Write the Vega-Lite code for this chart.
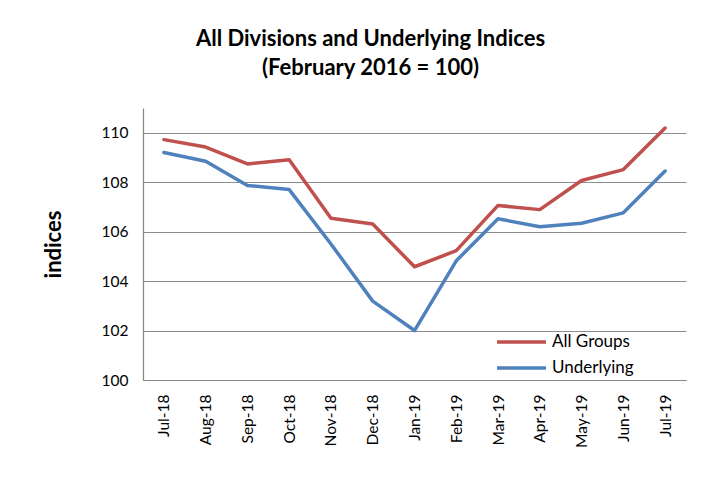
{
  "$schema": "https://vega.github.io/schema/vega-lite/v6.json",
  "width": 543,
  "height": 272,
  "autosize": {"type": "none"},
  "padding": {"left": 143, "top": 108, "right": 34, "bottom": 97},
  "background": "white",
  "title": {
    "text": ["All Divisions and Underlying Indices", "(February 2016 = 100)"],
    "font": "Lato",
    "fontSize": 22,
    "fontWeight": "bold",
    "color": "#000000",
    "lineHeight": 29,
    "anchor": "middle",
    "dx": -44,
    "offset": 28
  },
  "data": {
    "values": [
      {"month": "Jul-18", "series": "All Groups", "value": 109.72},
      {"month": "Aug-18", "series": "All Groups", "value": 109.42},
      {"month": "Sep-18", "series": "All Groups", "value": 108.74},
      {"month": "Oct-18", "series": "All Groups", "value": 108.91},
      {"month": "Nov-18", "series": "All Groups", "value": 106.54},
      {"month": "Dec-18", "series": "All Groups", "value": 106.31},
      {"month": "Jan-19", "series": "All Groups", "value": 104.58},
      {"month": "Feb-19", "series": "All Groups", "value": 105.23},
      {"month": "Mar-19", "series": "All Groups", "value": 107.06},
      {"month": "Apr-19", "series": "All Groups", "value": 106.89},
      {"month": "May-19", "series": "All Groups", "value": 108.07},
      {"month": "Jun-19", "series": "All Groups", "value": 108.51},
      {"month": "Jul-19", "series": "All Groups", "value": 110.19},
      {"month": "Jul-18", "series": "Underlying", "value": 109.2},
      {"month": "Aug-18", "series": "Underlying", "value": 108.85},
      {"month": "Sep-18", "series": "Underlying", "value": 107.87},
      {"month": "Oct-18", "series": "Underlying", "value": 107.7},
      {"month": "Nov-18", "series": "Underlying", "value": 105.5},
      {"month": "Dec-18", "series": "Underlying", "value": 103.19},
      {"month": "Jan-19", "series": "Underlying", "value": 102.0},
      {"month": "Feb-19", "series": "Underlying", "value": 104.82},
      {"month": "Mar-19", "series": "Underlying", "value": 106.52},
      {"month": "Apr-19", "series": "Underlying", "value": 106.2},
      {"month": "May-19", "series": "Underlying", "value": 106.34},
      {"month": "Jun-19", "series": "Underlying", "value": 106.76},
      {"month": "Jul-19", "series": "Underlying", "value": 108.45}
    ]
  },
  "mark": {"type": "line", "strokeWidth": 3.5, "strokeJoin": "round", "strokeCap": "round"},
  "encoding": {
    "x": {
      "field": "month",
      "type": "ordinal",
      "sort": null,
      "scale": {"type": "point", "padding": 0.5},
      "axis": {
        "title": null,
        "labelAngle": 270,
        "labelAlign": "right",
        "labelBaseline": "middle",
        "labelFont": "Lato",
        "labelFontSize": 15.5,
        "labelColor": "#000000",
        "labelPadding": 14,
        "ticks": false,
        "grid": false,
        "domainColor": "#868686",
        "domainWidth": 1.2
      }
    },
    "y": {
      "field": "value",
      "type": "quantitative",
      "scale": {"domain": [100, 111], "nice": false, "zero": false},
      "axis": {
        "title": "indices",
        "titleFont": "Lato",
        "titleFontSize": 22,
        "titleFontWeight": "bold",
        "titleColor": "#000000",
        "titlePadding": 36,
        "values": [100, 102, 104, 106, 108, 110],
        "labelFont": "Lato",
        "labelFontSize": 15.5,
        "labelColor": "#000000",
        "labelPadding": 15,
        "ticks": false,
        "grid": true,
        "gridColor": "#8c8c8c",
        "gridWidth": 1.2,
        "domainColor": "#868686",
        "domainWidth": 1.2
      }
    },
    "color": {
      "field": "series",
      "type": "nominal",
      "scale": {"domain": ["All Groups", "Underlying"], "range": ["#C0504D", "#4F81BD"]},
      "legend": {
        "title": null,
        "orient": "none",
        "legendX": 352,
        "legendY": 226,
        "symbolType": "stroke",
        "symbolStrokeWidth": 3.5,
        "symbolSize": 2400,
        "clipHeight": 16,
        "labelFont": "Lato",
        "labelFontSize": 17,
        "labelColor": "#000000",
        "rowPadding": 9,
        "labelOffset": 4
      }
    }
  },
  "config": {"view": {"stroke": null}}
}
